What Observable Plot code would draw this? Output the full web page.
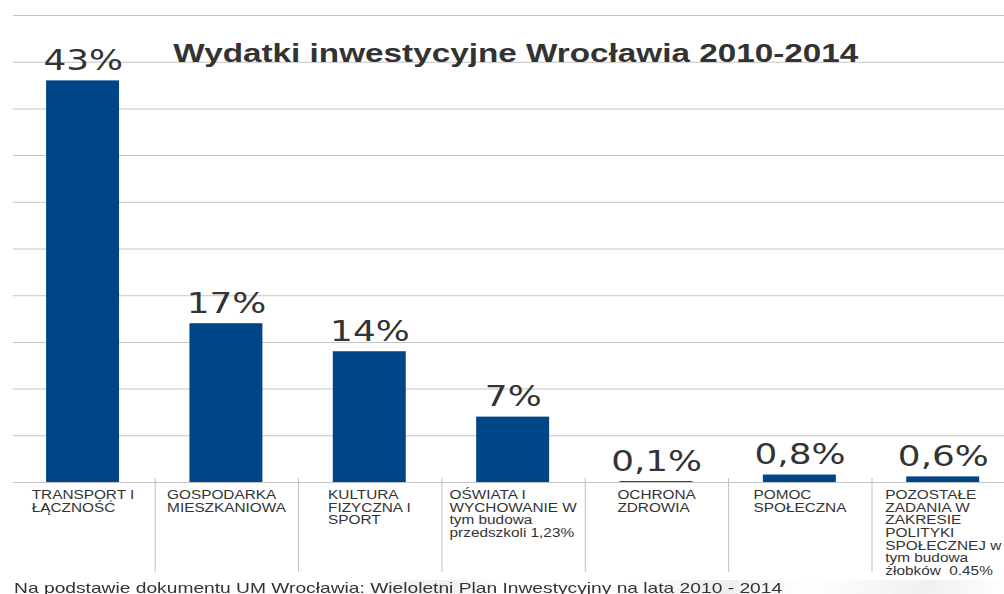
<!DOCTYPE html>
<html>
<head>
<meta charset="utf-8">
<script src="https://cdn.jsdelivr.net/npm/d3@7"></script>
<script src="https://cdn.jsdelivr.net/npm/@observablehq/plot@0.6"></script>
<style>
  html, body { margin: 0; padding: 0; background: #fff; overflow: hidden; width: 1004px; height: 594px; }
  #wrap { transform: scale(1.28, 1); transform-origin: 0 0; width: 785px; }
  #wrap svg { display: block; }
  #caption {
    font-family: "Liberation Sans", Arial, sans-serif;
    font-size: 15px; line-height: 16px; color: #333;
    padding-left: 11px; height: 14px; white-space: nowrap;
    background: linear-gradient(105deg, rgba(255,255,255,0) 36%, rgba(225,225,225,0.55) 44%, rgba(255,255,255,0) 50%, rgba(255,255,255,0) 62%, rgba(220,220,220,0.5) 72%, rgba(255,255,255,0) 80%, rgba(225,225,225,0.5) 92%, rgba(255,255,255,0) 100%);
  }
</style>
</head>
<body>
<div id="wrap"></div>
<script>
const title = "Wydatki inwestycyjne Wrocławia 2010-2014";
const caption = "Na podstawie dokumentu UM Wrocławia: Wieloletni Plan Inwestycyjny na lata 2010 - 2014";
const categories = [
  "TRANSPORT I\nŁĄCZNOŚĆ",
  "GOSPODARKA\nMIESZKANIOWA",
  "KULTURA\nFIZYCZNA I\nSPORT",
  "OŚWIATA I\nWYCHOWANIE W\ntym budowa\nprzedszkoli 1,23%",
  "OCHRONA\nZDROWIA",
  "POMOC\nSPOŁECZNA",
  "POZOSTAŁE\nZADANIA W\nZAKRESIE\nPOLITYKI\nSPOŁECZNEJ w\ntym budowa\nżłobków  0.45%"
];
const values = [43, 17, 14, 7, 0.1, 0.8, 0.6];
const valueLabels = ["43%", "17%", "14%", "7%", "0,1%", "0,8%", "0,6%"];
const yTicks = [0, 5, 10, 15, 20, 25, 30, 35, 40, 45, 50];

const data = categories.map((c, i) => ({category: c, value: values[i], label: valueLabels[i]}));

const W = 785, H = 580;
const xRange = [7, 794.5];
const step = (xRange[1] - xRange[0]) / categories.length;

// measure label block widths so each block is centred with left-aligned lines
const ctx = document.createElement("canvas").getContext("2d");
ctx.font = "12px 'Liberation Sans'";
const blockWidth = c => Math.max(...c.split("\n").map(l => ctx.measureText(l).width));

const tickMarks = data.map(d => Plot.text([d], {
  x: "category", y: () => 0, text: "category",
  textAnchor: "start", lineAnchor: "top", lineHeight: 1.06,
  dx: -blockWidth(d.category) / 2, dy: 7.3,
  fontSize: 12, fontFamily: "Liberation Sans, Arial, sans-serif", fill: "#333"
}));

const chart = Plot.plot({
  width: W, height: H,
  marginTop: 15, marginBottom: 98, marginLeft: 10, marginRight: 0,
  style: {fontFamily: "Liberation Sans, Arial, sans-serif", fontSize: "12px", color: "#333", background: "#fff"},
  x: {domain: categories, range: xRange, paddingInner: 0.49, paddingOuter: 0.245, axis: null},
  y: {domain: [0, 50], axis: null},
  marks: [
    Plot.gridY(yTicks, {stroke: "#c4c4c4", strokeOpacity: 1, strokeWidth: 1}),
    Plot.ruleX(data.slice(0, -1), {x: "category", dx: step / 2, insetTop: 463, insetBottom: -90, stroke: "#c0c0c0", strokeWidth: 0.8}),
    Plot.barY(data, {x: "category", y: "value", fill: "#004586"}),
    Plot.text(data, {x: "category", y: "value", text: "label", lineAnchor: "bottom", dy: -11,
      fontFamily: "DejaVu Sans, sans-serif", fontSize: 28, fill: "#333"}),
    ...tickMarks,
    Plot.text([title], {text: d => d, frameAnchor: "top", lineAnchor: "bottom", dx: 5, dy: 46,
      fontFamily: "Liberation Sans, Arial, sans-serif", fontSize: 26, fontWeight: "bold", fill: "#333"})
  ]
});

const wrap = document.getElementById("wrap");
wrap.appendChild(chart);
const cap = document.createElement("div");
cap.id = "caption";
cap.textContent = caption;
wrap.appendChild(cap);
</script>
</body>
</html>
